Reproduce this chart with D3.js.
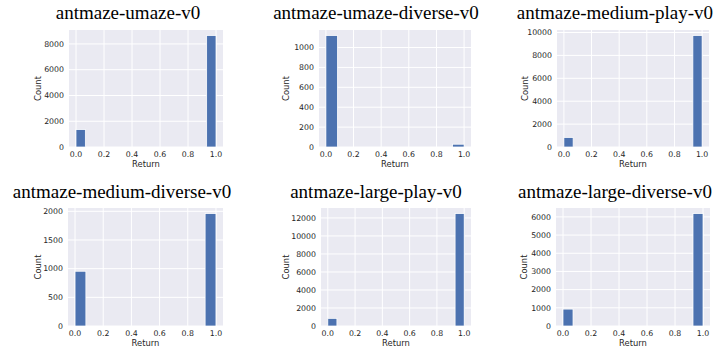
<!DOCTYPE html>
<html>
<head>
<meta charset="utf-8">
<script src="https://cdn.jsdelivr.net/npm/d3@7"></script>
<style>
  html, body { margin: 0; padding: 0; background: #ffffff; }
  svg { display: block; }
</style>
</head>
<body>
<svg id="chart" width="724" height="351"></svg>
<script>
// ---- data ----
const titles = [
  "antmaze-umaze-v0",
  "antmaze-umaze-diverse-v0",
  "antmaze-medium-play-v0",
  "antmaze-medium-diverse-v0",
  "antmaze-large-play-v0",
  "antmaze-large-diverse-v0"
];
// counts of episodes with return 0 (first bin) and return 1 (last bin)
const countsAtZero = [1350, 1120, 830, 955, 850, 930];
const countsAtOne  = [8650, 28, 9730, 1960, 12480, 6180];
// number of histogram bins used for each panel
const binCounts = [15, 12, 15, 13, 15, 14];
const yTicks = [
  [0, 2000, 4000, 6000, 8000],
  [0, 200, 400, 600, 800, 1000],
  [0, 2000, 4000, 6000, 8000, 10000],
  [0, 500, 1000, 1500, 2000],
  [0, 2000, 4000, 6000, 8000, 10000, 12000],
  [0, 1000, 2000, 3000, 4000, 5000, 6000]
];
const xTicks = [0.0, 0.2, 0.4, 0.6, 0.8, 1.0];
const xLabel = "Return";
const yLabel = "Count";

// ---- layout ----
const panels = [
  {x0: 69,  x1: 223, y0: 30,  y1: 147, titleX: 128, titleY: 19,  ylabX: 41},
  {x0: 319, x1: 471, y0: 30,  y1: 147, titleX: 376, titleY: 19,  ylabX: 289},
  {x0: 557, x1: 709, y0: 30,  y1: 147, titleX: 615, titleY: 19,  ylabX: 528},
  {x0: 68,  x1: 223, y0: 208, y1: 326, titleX: 122, titleY: 198, ylabX: 41},
  {x0: 321, x1: 471, y0: 208, y1: 326, titleX: 376, titleY: 198, ylabX: 289},
  {x0: 556, x1: 710, y0: 208, y1: 326, titleX: 615, titleY: 198, ylabX: 527}
];

const svg = d3.select("#chart");
const textColor = "#262626";
const bg = "#EAEAF2";
const barColor = "#4C72B0";

titles.forEach((title, i) => {
  const p = panels[i];
  const maxC = Math.max(countsAtZero[i], countsAtOne[i]);
  const x = d3.scaleLinear().domain([-0.05, 1.05]).range([p.x0, p.x1]);
  const y = d3.scaleLinear().domain([0, maxC * 1.05]).range([p.y1, p.y0]);
  const g = svg.append("g");

  g.append("rect")
    .attr("x", p.x0).attr("y", p.y0)
    .attr("width", p.x1 - p.x0).attr("height", p.y1 - p.y0)
    .attr("fill", bg);

  // grid
  g.selectAll(".gx").data(xTicks).enter().append("line")
    .attr("x1", d => x(d)).attr("x2", d => x(d))
    .attr("y1", p.y0).attr("y2", p.y1)
    .attr("stroke", "#fff").attr("stroke-width", 1);
  g.selectAll(".gy").data(yTicks[i]).enter().append("line")
    .attr("x1", p.x0).attr("x2", p.x1)
    .attr("y1", d => y(d)).attr("y2", d => y(d))
    .attr("stroke", "#fff").attr("stroke-width", 1);

  // bars
  const w = 1 / binCounts[i];
  const bars = [
    {lo: 0, hi: w, c: countsAtZero[i]},
    {lo: 1 - w, hi: 1, c: countsAtOne[i]}
  ];
  g.selectAll(".bar").data(bars).enter().append("rect")
    .attr("x", d => x(d.lo))
    .attr("width", d => x(d.hi) - x(d.lo))
    .attr("y", d => y(d.c))
    .attr("height", d => y(0) - y(d.c))
    .attr("fill", barColor)
    .attr("stroke", "#fff").attr("stroke-width", 0.75);

  // x tick labels
  g.selectAll(".xt").data(xTicks).enter().append("text")
    .attr("x", d => x(d)).attr("y", p.y1 + 10)
    .attr("text-anchor", "middle")
    .attr("font-family", "DejaVu Sans")
    .attr("font-size", 7.8)
    .attr("fill", textColor)
    .text(d => d3.format(".1f")(d));

  // y tick labels
  g.selectAll(".yt").data(yTicks[i]).enter().append("text")
    .attr("x", p.x0 - 5).attr("y", d => y(d))
    .attr("dy", "0.35em")
    .attr("text-anchor", "end")
    .attr("font-family", "DejaVu Sans")
    .attr("font-size", 7.8)
    .attr("fill", textColor)
    .text(d => d);

  // axis labels
  g.append("text")
    .attr("x", (p.x0 + p.x1) / 2).attr("y", p.y1 + 20)
    .attr("text-anchor", "middle")
    .attr("font-family", "DejaVu Sans")
    .attr("font-size", 8.4)
    .attr("fill", textColor)
    .text(xLabel);
  g.append("text")
    .attr("transform", `translate(${p.ylabX},${(p.y0 + p.y1) / 2}) rotate(-90)`)
    .attr("text-anchor", "middle")
    .attr("font-family", "DejaVu Sans")
    .attr("font-size", 8.4)
    .attr("fill", textColor)
    .text(yLabel);

  // title
  g.append("text")
    .attr("x", p.titleX).attr("y", p.titleY)
    .attr("text-anchor", "middle")
    .attr("font-family", "'Liberation Serif', 'Times New Roman', serif")
    .attr("font-size", 19)
    .attr("fill", "#000")
    .text(title);
});
</script>
</body>
</html>
